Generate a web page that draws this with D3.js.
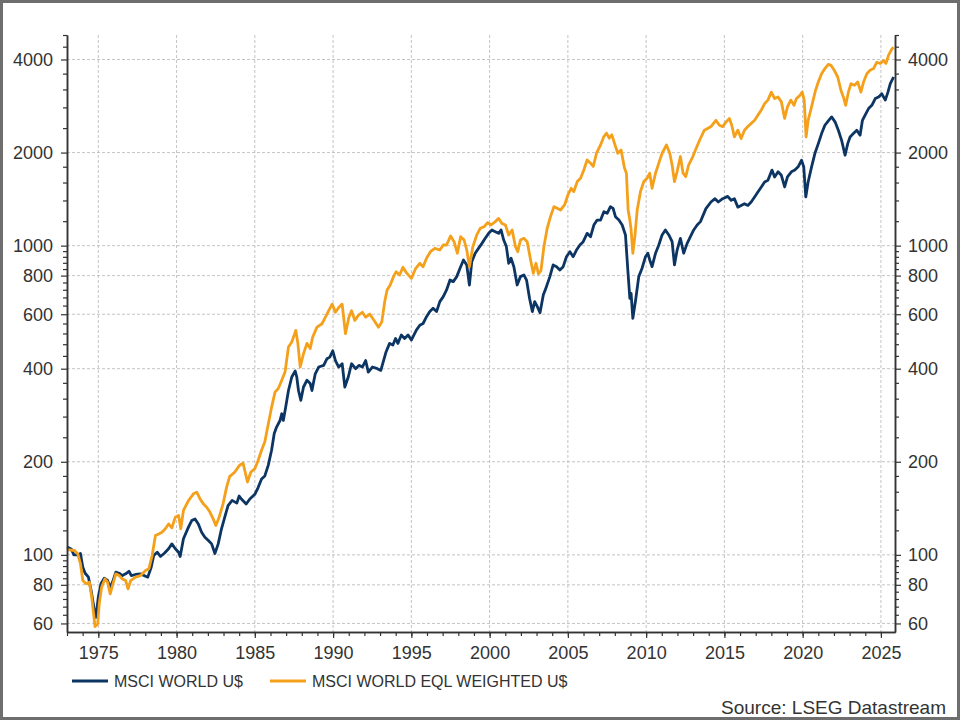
<!DOCTYPE html>
<html lang="en">
<head>
<meta charset="UTF-8">
<title>MSCI World vs MSCI World Equal Weighted</title>
<script src="https://d3js.org/d3.v7.min.js"></script>
<style>
  html, body { margin: 0; padding: 0; background: #fff; }
  svg { display: block; font-family: "Liberation Sans", Arial, sans-serif; }
</style>
</head>
<body>
<svg id="chart" width="960" height="720"></svg>
<script>
// tick values
const xMajorTicks = [1975, 1980, 1985, 1990, 1995, 2000, 2005, 2010, 2015, 2020, 2025];
const yMajorTicks = [60, 80, 100, 200, 400, 600, 800, 1000, 2000, 4000];
const yMinorTicks = [64, 68, 72, 76, 84, 88, 92, 96, 120, 140, 160, 180, 240, 280, 320, 360,
  440, 480, 520, 560, 640, 680, 720, 760, 840, 880, 920, 960, 1200, 1400, 1600, 1800,
  2400, 2800, 3200, 3600, 4400, 4800];
const seriesNames = ["MSCI WORLD U$", "MSCI WORLD EQL WEIGHTED U$"];
const seriesColors = ["#0c3563", "#f5a01a"];
const sourceText = "Source: LSEG Datastream";

// [decimal year, index level]
const msciWorld = [
  [1973.0,106],[1973.27,104.5],[1973.44,100],[1973.69,100],[1973.86,101],[1974.01,91.2],[1974.16,87.2],
  [1974.37,84.7],[1974.54,76.7],[1974.75,66.1],[1974.85,62.8],[1975.0,73],[1975.17,80.6],[1975.38,84],
  [1975.59,82.6],[1975.76,78.6],[1975.91,81.6],[1976.12,87.9],[1976.33,87.2],[1976.54,85.7],[1976.75,86.8],
  [1976.96,88.5],[1977.11,85.7],[1977.38,86.4],[1977.7,86.8],[1978.02,85.3],[1978.16,84.7],[1978.38,91.2],
  [1978.54,99.5],[1978.76,102],[1978.97,98.8],[1979.22,101.2],[1979.49,104.6],[1979.7,108.5],[1979.92,104.6],
  [1980.13,102],[1980.23,98.8],[1980.44,112.7],[1980.76,122.9],[1980.97,129.1],[1981.18,130.7],[1981.39,125.9],
  [1981.6,118.4],[1981.81,114],[1982.03,111.3],[1982.24,108.5],[1982.45,101],[1982.66,108.5],[1982.87,121.4],
  [1983.08,132.4],[1983.29,144.4],[1983.55,150],[1983.85,147],[1984.0,155],[1984.14,151.6],[1984.45,146],
  [1984.68,151.6],[1985.0,157],[1985.21,165],[1985.43,176],[1985.64,180],[1985.86,195],[1986.07,218],
  [1986.24,247],[1986.39,259],[1986.61,272],[1986.72,286],[1986.82,272],[1986.97,300],[1987.15,340],
  [1987.36,376],[1987.58,393],[1987.68,376],[1987.79,340],[1987.94,316],[1988.11,349],[1988.33,367],
  [1988.54,358],[1988.65,340],[1988.86,385],[1989.08,405],[1989.4,410],[1989.61,431],[1989.79,436],
  [1989.98,457],[1990.15,425],[1990.36,405],[1990.58,415],[1990.75,349],[1990.97,376],[1991.18,415],
  [1991.44,400],[1991.65,410],[1991.87,405],[1992.08,425],[1992.25,390],[1992.51,405],[1992.83,400],
  [1993.05,395],[1993.37,451],[1993.61,483],[1993.82,477],[1993.99,501],[1994.14,483],[1994.36,514],
  [1994.57,501],[1994.79,514],[1995.0,495],[1995.32,533],[1995.54,553],[1995.75,560],[1995.97,589],
  [1996.18,612],[1996.39,627],[1996.61,612],[1996.82,659],[1997.04,684],[1997.25,719],[1997.47,774],
  [1997.68,765],[1997.9,794],[1998.11,845],[1998.33,899],[1998.54,866],[1998.71,746],[1998.86,888],
  [1999.08,945],[1999.29,980],[1999.51,1017],[1999.72,1056],[1999.94,1096],[2000.15,1124],[2000.36,1110],
  [2000.58,1096],[2000.73,1124],[2000.9,1043],[2001.07,993],[2001.22,877],[2001.37,910],[2001.55,855],
  [2001.76,746],[2001.97,794],[2002.19,804],[2002.36,774],[2002.55,676],[2002.73,612],[2002.88,659],
  [2003.05,635],[2003.22,607],[2003.43,692],[2003.6,730],[2003.85,794],[2004.06,866],[2004.28,855],
  [2004.49,834],[2004.7,855],[2004.91,921],[2005.13,956],[2005.34,921],[2005.55,968],[2005.77,1005],
  [2005.98,1030],[2006.23,1096],[2006.45,1069],[2006.66,1166],[2006.87,1210],[2007.09,1210],[2007.3,1288],
  [2007.51,1272],[2007.72,1337],[2007.89,1320],[2008.04,1241],[2008.26,1210],[2008.47,1166],[2008.68,1083],
  [2008.83,834],[2008.96,675],[2009.04,701],[2009.15,582],[2009.32,662],[2009.53,794],[2009.74,845],
  [2009.96,921],[2010.11,945],[2010.23,899],[2010.38,855],[2010.6,945],[2010.81,1005],[2011.02,1083],
  [2011.23,1124],[2011.45,1083],[2011.66,1030],[2011.81,866],[2011.98,968],[2012.19,1056],[2012.4,945],
  [2012.62,1017],[2012.83,1069],[2013.04,1124],[2013.26,1166],[2013.47,1196],[2013.82,1317],[2014.14,1384],
  [2014.4,1419],[2014.61,1384],[2014.89,1419],[2015.21,1443],[2015.43,1402],[2015.64,1419],[2015.86,1332],
  [2016.07,1349],[2016.28,1366],[2016.5,1349],[2016.71,1384],[2016.93,1437],[2017.14,1491],[2017.36,1548],
  [2017.57,1607],[2017.78,1627],[2018.04,1755],[2018.21,1668],[2018.43,1733],[2018.64,1689],[2018.85,1548],
  [2019.03,1668],[2019.28,1733],[2019.5,1755],[2019.71,1798],[2019.93,1889],[2020.07,1798],[2020.2,1437],
  [2020.35,1607],[2020.57,1798],[2020.78,1985],[2021.0,2138],[2021.21,2304],[2021.42,2451],[2021.64,2534],
  [2021.85,2609],[2022.07,2514],[2022.28,2362],[2022.49,2191],[2022.71,1961],[2022.88,2138],[2023.03,2247],
  [2023.24,2304],[2023.46,2362],[2023.67,2276],[2023.82,2543],[2023.99,2643],[2024.21,2775],[2024.42,2844],
  [2024.64,2989],[2024.85,3026],[2025.06,3098],[2025.28,2956],[2025.45,3136],[2025.6,3340],[2025.81,3511]
];

const msciEqlWeighted = [
  [1973.0,104],[1973.48,103.3],[1973.69,100.7],[1973.86,93.5],[1974.01,82.6],[1974.22,80.6],[1974.43,81.6],
  [1974.58,73],[1974.7,64.4],[1974.79,58.6],[1974.96,59.8],[1975.06,69.4],[1975.21,78.6],[1975.42,83.6],
  [1975.59,81.6],[1975.76,74.8],[1975.91,79.6],[1976.12,86.8],[1976.33,85.7],[1976.54,83.6],[1976.75,82.6],
  [1976.9,77.6],[1977.07,82.6],[1977.38,84.7],[1977.7,85.7],[1978.02,89],[1978.23,90.1],[1978.44,99.5],
  [1978.65,115.5],[1978.86,116.9],[1979.07,118.4],[1979.28,121.4],[1979.49,125.9],[1979.7,122.3],[1979.92,132.4],
  [1980.13,134],[1980.27,121.4],[1980.44,139.2],[1980.76,149.8],[1981.08,157.5],[1981.29,159.5],[1981.5,151.7],
  [1981.71,146.2],[1981.92,142.6],[1982.13,137.5],[1982.34,130.7],[1982.51,124.5],[1982.72,132.4],[1982.97,146.2],
  [1983.19,165],[1983.39,179],[1983.71,185],[1984.03,195],[1984.25,198],[1984.53,172],[1984.74,185],
  [1985.0,190],[1985.21,202],[1985.43,218],[1985.64,232],[1985.86,265],[1986.07,300],[1986.29,336],
  [1986.5,345],[1986.72,367],[1986.93,390],[1987.15,470],[1987.36,488],[1987.62,532],[1987.75,483],
  [1987.9,405],[1988.11,447],[1988.33,483],[1988.54,465],[1988.69,505],[1988.97,545],[1989.29,559],
  [1989.51,587],[1989.72,616],[1989.94,647],[1990.15,609],[1990.36,631],[1990.58,647],[1990.79,519],
  [1991.01,587],[1991.18,616],[1991.39,573],[1991.61,595],[1991.87,609],[1992.08,587],[1992.34,601],
  [1992.62,573],[1992.9,545],[1993.11,566],[1993.3,660],[1993.45,719],[1993.65,746],[1993.86,794],
  [1994.03,824],[1994.25,804],[1994.46,851],[1994.68,818],[1995.0,784],[1995.28,845],[1995.54,877],
  [1995.75,855],[1995.97,910],[1996.22,956],[1996.5,980],[1996.82,968],[1997.04,1005],[1997.25,1005],
  [1997.51,1075],[1997.73,1030],[1997.94,945],[1998.15,1069],[1998.37,1043],[1998.54,968],[1998.71,855],
  [1998.93,993],[1999.18,1083],[1999.4,1138],[1999.66,1152],[1999.87,1187],[2000.09,1166],[2000.36,1196],
  [2000.58,1225],[2000.79,1180],[2001.01,1166],[2001.22,1083],[2001.44,1124],[2001.65,993],[2001.8,956],
  [2001.97,1043],[2002.19,1056],[2002.4,1030],[2002.62,899],[2002.79,814],[2002.96,877],[2003.12,810],
  [2003.28,830],[2003.47,993],[2003.68,1138],[2003.89,1241],[2004.11,1337],[2004.32,1320],[2004.53,1304],
  [2004.79,1354],[2005.0,1458],[2005.21,1533],[2005.38,1496],[2005.6,1611],[2005.81,1651],[2006.02,1757],
  [2006.23,1893],[2006.45,1848],[2006.62,1803],[2006.83,1990],[2007.09,2116],[2007.3,2253],[2007.47,2311],
  [2007.64,2226],[2007.81,2282],[2007.98,2142],[2008.19,1990],[2008.4,2038],[2008.62,1781],[2008.74,1715],
  [2008.85,1304],[2008.96,1210],[2009.04,1124],[2009.15,945],[2009.28,1069],[2009.43,1304],[2009.64,1496],
  [2009.85,1611],[2010.06,1651],[2010.23,1715],[2010.38,1533],[2010.6,1715],[2010.81,1848],[2011.02,1990],
  [2011.3,2116],[2011.51,1990],[2011.66,1824],[2011.81,1611],[2011.98,1736],[2012.19,1942],[2012.36,1715],
  [2012.53,1671],[2012.72,1824],[2012.94,1918],[2013.15,2038],[2013.43,2200],[2013.72,2362],[2013.93,2394],
  [2014.14,2427],[2014.46,2543],[2014.68,2451],[2014.89,2427],[2015.11,2514],[2015.32,2579],[2015.47,2451],
  [2015.64,2247],[2015.86,2362],[2016.07,2219],[2016.28,2362],[2016.5,2427],[2016.71,2485],[2016.93,2543],
  [2017.14,2643],[2017.36,2746],[2017.57,2880],[2017.78,2956],[2018.0,3136],[2018.21,2989],[2018.43,3026],
  [2018.64,2917],[2018.85,2579],[2019.03,2811],[2019.24,2956],[2019.45,2844],[2019.6,2989],[2019.82,3060],
  [2019.97,3136],[2020.1,2956],[2020.22,2247],[2020.35,2543],[2020.52,2746],[2020.67,2956],[2020.82,3176],
  [2021.0,3382],[2021.21,3598],[2021.42,3738],[2021.64,3858],[2021.81,3828],[2022.02,3691],[2022.24,3511],
  [2022.45,3176],[2022.6,3026],[2022.75,2844],[2022.92,3136],[2023.09,3340],[2023.31,3301],[2023.52,3382],
  [2023.72,3136],[2023.89,3382],[2024.1,3598],[2024.31,3691],[2024.53,3738],[2024.74,3920],[2024.96,3883],
  [2025.17,3968],[2025.32,3883],[2025.49,4130],[2025.71,4332],[2025.81,4382]
];

const svg = d3.select("#chart");
const W = 960, H = 720;
const plot = { left: 67, right: 895, top: 35, bottom: 632 };

const x = d3.scaleLinear().domain([1973, 2025.9]).range([plot.left, plot.right]);
const y = d3.scaleLog().domain([56.3, 4800]).range([plot.bottom, plot.top]);

// outer frame
svg.append("rect")
  .attr("x", 1.5).attr("y", 1.5)
  .attr("width", W - 3).attr("height", H - 3)
  .attr("fill", "#fff")
  .attr("stroke", "#6e6e6e")
  .attr("stroke-width", 3);

// grid
const grid = svg.append("g").attr("class", "grid")
  .attr("stroke", "#bdbdbd").attr("stroke-width", 0.9).attr("stroke-dasharray", "3,2");
grid.selectAll("line.h").data(yMajorTicks).join("line")
  .attr("class", "h")
  .attr("x1", plot.left).attr("x2", plot.right)
  .attr("y1", d => y(d)).attr("y2", d => y(d));
grid.selectAll("line.v").data(xMajorTicks).join("line")
  .attr("class", "v")
  .attr("x1", d => x(d)).attr("x2", d => x(d))
  .attr("y1", plot.top).attr("y2", plot.bottom);

// lines
const line = d3.line().x(d => x(d[0])).y(d => y(d[1]));
[msciWorld, msciEqlWeighted].forEach((data, i) => {
  svg.append("path")
    .datum(data)
    .attr("d", line)
    .attr("fill", "none")
    .attr("stroke", seriesColors[i])
    .attr("stroke-width", 2.8)
    .attr("stroke-linejoin", "round");
});

// axes
const fmt = d3.format("d");
const styleAxis = g => {
  g.selectAll(".domain").attr("stroke", "#333").attr("stroke-width", 1.5);
  g.selectAll(".tick line").attr("stroke", "#333").attr("stroke-width", 1.2);
  g.selectAll(".tick text").attr("fill", "#333").style("font-size", "18px")
    .style("font-family", '"Liberation Sans", Arial, sans-serif');
};

svg.append("g")
  .attr("transform", `translate(${plot.left},0)`)
  .call(d3.axisLeft(y).tickValues(yMinorTicks).tickSize(4).tickSizeOuter(0).tickFormat(""))
  .call(styleAxis);
svg.append("g")
  .attr("transform", `translate(${plot.left},0)`)
  .call(d3.axisLeft(y).tickValues(yMajorTicks).tickSize(6).tickSizeOuter(0).tickPadding(8).tickFormat(fmt))
  .call(styleAxis);

svg.append("g")
  .attr("transform", `translate(${plot.right},0)`)
  .call(d3.axisRight(y).tickValues(yMinorTicks).tickSize(4).tickSizeOuter(0).tickFormat(""))
  .call(styleAxis);
svg.append("g")
  .attr("transform", `translate(${plot.right},0)`)
  .call(d3.axisRight(y).tickValues(yMajorTicks).tickSize(6).tickSizeOuter(0).tickPadding(7).tickFormat(fmt))
  .call(styleAxis);

svg.append("g")
  .attr("transform", `translate(0,${plot.bottom})`)
  .call(d3.axisBottom(x).tickValues(d3.range(1973, 2026)).tickSize(4).tickSizeOuter(0).tickFormat(""))
  .call(styleAxis);
svg.append("g")
  .attr("transform", `translate(0,${plot.bottom})`)
  .call(d3.axisBottom(x).tickValues(xMajorTicks).tickSize(6).tickSizeOuter(0).tickPadding(8).tickFormat(fmt))
  .call(styleAxis);

// legend
const legendX = [72, 270];
const legend = svg.append("g").attr("transform", "translate(0,681)");
seriesNames.forEach((name, i) => {
  const g = legend.append("g").attr("transform", `translate(${legendX[i]},0)`);
  g.append("line")
    .attr("x1", 0).attr("x2", 36).attr("y1", 0).attr("y2", 0)
    .attr("stroke", seriesColors[i]).attr("stroke-width", 3);
  g.append("text")
    .attr("x", 42).attr("y", 0).attr("dy", "0.36em")
    .attr("fill", "#333").style("font-size", "16px")
    .text(name);
});

// source
svg.append("text")
  .attr("x", 946).attr("y", 714)
  .attr("text-anchor", "end")
  .attr("fill", "#333").style("font-size", "19px")
  .text(sourceText);
</script>
</body>
</html>
